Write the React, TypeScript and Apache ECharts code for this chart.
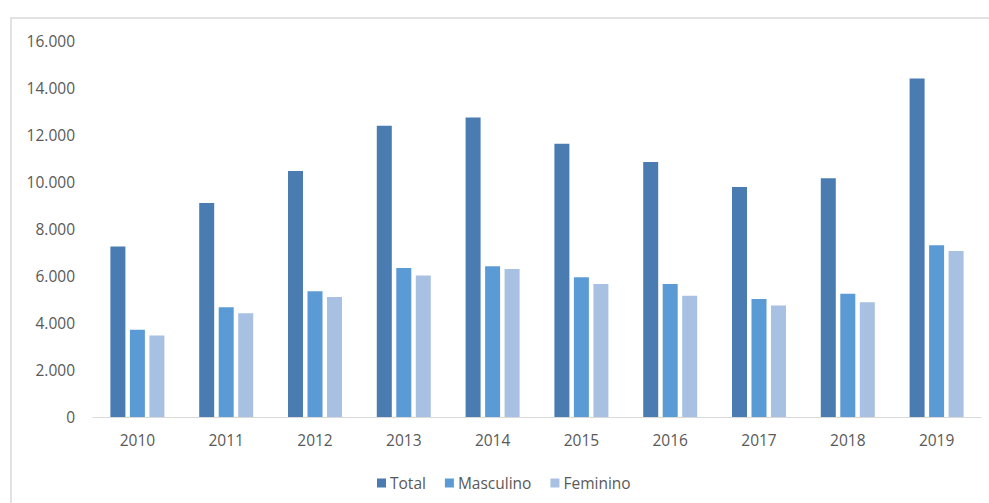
import React, { useEffect, useRef } from "react";
import * as echarts from "echarts";

const categories = ["2010", "2011", "2012", "2013", "2014", "2015", "2016", "2017", "2018", "2019"];
const totalValues = [7260, 9110, 10470, 12390, 12740, 11630, 10850, 9790, 10160, 14400];
const masculinoValues = [3710, 4670, 5350, 6340, 6410, 5950, 5660, 5020, 5250, 7310];
const femininoValues = [3470, 4420, 5110, 6020, 6300, 5660, 5160, 4740, 4880, 7060];
const yTicks = { min: 0, max: 16000, interval: 2000 };

const fmt = (v: number) => String(v).replace(/\B(?=(\d{3})+(?!\d))/g, ".");

export default function App() {
  const ref = useRef<HTMLDivElement>(null);
  useEffect(() => {
    if (!ref.current) return;
    const chart = echarts.init(ref.current, null, { renderer: "svg" });
    const font = "Open Sans";
    chart.setOption({
      animation: false,
      backgroundColor: "#ffffff",
      textStyle: { fontFamily: font },
      graphic: [
        {
          type: "rect",
          shape: { x: 11, y: 18, width: 1000, height: 520 },
          style: { fill: "none", stroke: "#d9d9d9", lineWidth: 1.5 },
          silent: true,
          z: -1,
        },
      ],
      grid: { left: 93, right: 8, top: 41, bottom: 86 },
      legend: {
        left: 372,
        top: 470,
        itemWidth: 9,
        itemHeight: 9,
        itemGap: 19,
        icon: "rect",
        textStyle: { fontSize: 15.5, color: "#595959", fontFamily: font, padding: [0, 0, 0, -1] },
        data: ["Total", "Masculino", "Feminino"],
      },
      xAxis: {
        type: "category",
        data: categories,
        axisLine: { lineStyle: { color: "#d9d9d9", width: 1 } },
        axisTick: { show: false },
        axisLabel: { color: "#595959", fontSize: 15.5, margin: 15, fontFamily: font },
      },
      yAxis: {
        type: "value",
        min: yTicks.min,
        max: yTicks.max,
        interval: yTicks.interval,
        splitLine: { show: false },
        axisLine: { show: false },
        axisTick: { show: false },
        axisLabel: {
          color: "#595959",
          fontSize: 15.5,
          margin: 18,
          fontFamily: font,
          formatter: (v: number) => fmt(v),
        },
      },
      series: [
        { name: "Total", type: "bar", data: totalValues, barWidth: 15, barGap: "30%", itemStyle: { color: "#4a7cb1" } },
        { name: "Masculino", type: "bar", data: masculinoValues, barWidth: 15, barGap: "30%", itemStyle: { color: "#5b9bd5" } },
        { name: "Feminino", type: "bar", data: femininoValues, barWidth: 15, barGap: "30%", itemStyle: { color: "#a8c0e2" } },
      ],
    });
    return () => chart.dispose();
  }, []);
  return (
    <div
      ref={ref}
      style={{ position: "fixed", left: 0, top: 0, width: 989, height: 503 }}
    />
  );
}
